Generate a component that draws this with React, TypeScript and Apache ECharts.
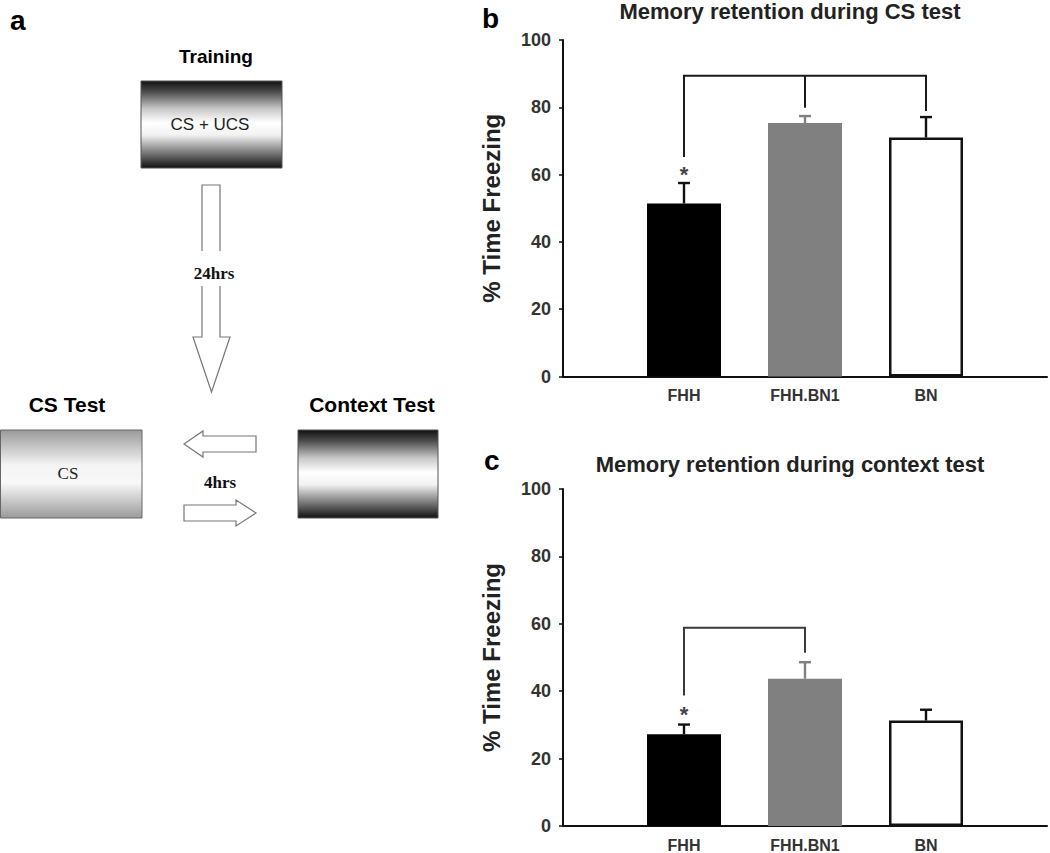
import React, { useEffect, useRef } from "react";
import * as echarts from "echarts";

// ---- data ----
const categories = ["", "FHH", "FHH.BN1", "BN", ""];
const yMin = 0;
const yMax = 100;
const yInterval = 20;

const csMeans = [null, 51.4, 75.3, 71.0, null];
const csErrTop = [null, 57.5, 77.4, 77.1, null];
const ctxMeans = [null, 27.2, 43.7, 31.3, null];
const ctxErrTop = [null, 30.1, 48.6, 34.5, null];

const barFills = ["#000000", "#000000", "#808080", "#ffffff", "#000000"];
const errColors = ["#111111", "#111111", "#808080", "#111111", "#111111"];

const csBracketTop = 89.4;
const csBracketLegs = [
  [1, 65.2],
  [2, 79.9],
  [3, 78.9],
];
const csStar = [1, 61.3];

const ctxBracketTop = 58.8;
const ctxBracketLegs = [
  [1, 38.7],
  [2, 51.4],
];
const ctxStar = [1, 34.3];

const titleB = "Memory retention during CS test";
const titleC = "Memory retention during context test";
const yName = "% Time Freezing";

const FONT = "'Liberation Sans', Arial, sans-serif";
const SERIF = "'Liberation Serif', 'Times New Roman', serif";

function barData(means: (number | null)[]) {
  return means.map((v, i) =>
    v == null
      ? "-"
      : {
          value: v,
          itemStyle: {
            color: barFills[i],
            borderColor: i === 3 ? "#111111" : barFills[i],
            borderWidth: i === 3 ? 2.5 : 0,
          },
        }
  );
}

function errData(means: (number | null)[], tops: (number | null)[]) {
  const out: number[][] = [];
  means.forEach((m, i) => {
    if (m != null && tops[i] != null) out.push([i, m, tops[i] as number]);
  });
  return out;
}

function errRender(params: any, api: any) {
  const x = api.value(0);
  const m = api.value(1);
  const t = api.value(2);
  const p0 = api.coord([x, m]);
  const p1 = api.coord([x, t]);
  const c = errColors[x];
  return {
    type: "group",
    children: [
      { type: "line", shape: { x1: p0[0], y1: p0[1], x2: p1[0], y2: p1[1] }, style: { stroke: c, lineWidth: 2.4 } },
      { type: "line", shape: { x1: p1[0] - 6, y1: p1[1], x2: p1[0] + 6, y2: p1[1] }, style: { stroke: c, lineWidth: 2.4 } },
    ],
  };
}

function bracketRender(legs: number[][], top: number, star: number[], color: string) {
  return (params: any, api: any) => {
    const i = params.dataIndex;
    const cat = api.value(0);
    const bottom = api.value(1);
    const a = api.coord([cat, top]);
    const b = api.coord([cat, bottom]);
    const children: any[] = [
      { type: "line", shape: { x1: a[0], y1: a[1], x2: b[0], y2: b[1] }, style: { stroke: color, lineWidth: 2 } },
    ];
    if (i === 0) {
      const l = api.coord([legs[0][0], top]);
      const r = api.coord([legs[legs.length - 1][0], top]);
      children.push({ type: "line", shape: { x1: l[0] - 1, y1: l[1], x2: r[0] + 1, y2: r[1] }, style: { stroke: color, lineWidth: 2 } });
      const s = api.coord(star);
      children.push({
        type: "text",
        x: s[0],
        y: s[1] + 4,
        style: { text: "*", font: `bold 22px ${FONT}`, fill: "#444", align: "center", verticalAlign: "middle" },
      });
    }
    return { type: "group", children };
  };
}

function yAxisCfg(gridIndex: number) {
  return {
    type: "value",
    gridIndex,
    min: yMin,
    max: yMax,
    interval: yInterval,
    name: yName,
    nameLocation: "middle",
    nameRotate: 90,
    nameGap: 60,
    nameTextStyle: { fontFamily: FONT, fontWeight: "bold", fontSize: 24, color: "#222" },
    axisLine: { show: true, lineStyle: { color: "#111", width: 2 } },
    axisTick: { show: true, length: 4, lineStyle: { color: "#111", width: 1.5 } },
    axisLabel: { fontFamily: FONT, fontWeight: "bold", fontSize: 18, color: "#333", margin: 12 },
    splitLine: { show: false },
  };
}

function xAxisCfg(gridIndex: number) {
  return {
    type: "category",
    gridIndex,
    data: categories,
    boundaryGap: false,
    axisLine: { show: true, lineStyle: { color: "#111", width: 2 } },
    axisTick: { show: false },
    axisLabel: { interval: 0, fontFamily: FONT, fontWeight: "bold", fontSize: 16, color: "#333", margin: 11 },
    splitLine: { show: false },
  };
}

const darkGrad = () =>
  new echarts.graphic.LinearGradient(0, 0, 0, 1, [
    { offset: 0, color: "#111111" },
    { offset: 0.12, color: "#4a4a4a" },
    { offset: 0.32, color: "#c8c8c8" },
    { offset: 0.48, color: "#ffffff" },
    { offset: 0.62, color: "#f2f2f2" },
    { offset: 0.85, color: "#6a6a6a" },
    { offset: 1, color: "#111111" },
  ]);

const lightGrad = () =>
  new echarts.graphic.LinearGradient(0, 0, 0, 1, [
    { offset: 0, color: "#9a9a9a" },
    { offset: 0.4, color: "#f4f4f4" },
    { offset: 0.6, color: "#f8f8f8" },
    { offset: 1, color: "#9a9a9a" },
  ]);

export default function App() {
  const ref = useRef<HTMLDivElement>(null);
  useEffect(() => {
    if (!ref.current) return;
    const chart = echarts.init(ref.current, null, { renderer: "svg" });
    const option: any = {
      animation: false,
      backgroundColor: "#ffffff",
      grid: [
        { left: 563, top: 40, width: 485, height: 336.5 },
        { left: 563, top: 489, width: 485, height: 337 },
      ],
      xAxis: [xAxisCfg(0), xAxisCfg(1)],
      yAxis: [yAxisCfg(0), yAxisCfg(1)],
      series: [
        { type: "bar", xAxisIndex: 0, yAxisIndex: 0, barWidth: 74, data: barData(csMeans), z: 2 },
        { type: "custom", xAxisIndex: 0, yAxisIndex: 0, data: errData(csMeans, csErrTop), renderItem: errRender, z: 3 },
        {
          type: "custom",
          xAxisIndex: 0,
          yAxisIndex: 0,
          data: csBracketLegs,
          renderItem: bracketRender(csBracketLegs, csBracketTop, csStar, "#1a1a1a"),
          z: 3,
        },
        { type: "bar", xAxisIndex: 1, yAxisIndex: 1, barWidth: 74, data: barData(ctxMeans), z: 2 },
        { type: "custom", xAxisIndex: 1, yAxisIndex: 1, data: errData(ctxMeans, ctxErrTop), renderItem: errRender, z: 3 },
        {
          type: "custom",
          xAxisIndex: 1,
          yAxisIndex: 1,
          data: ctxBracketLegs,
          renderItem: bracketRender(ctxBracketLegs, ctxBracketTop, ctxStar, "#3a3a3a"),
          z: 3,
        },
      ],
      graphic: [
        // panel letters
        { type: "text", left: 10, top: 6, style: { text: "a", font: `bold 28px ${FONT}`, fill: "#000" } },
        { type: "text", left: 482, top: 4, style: { text: "b", font: `bold 28px ${FONT}`, fill: "#000" } },
        { type: "text", left: 484, top: 446, style: { text: "c", font: `bold 28px ${FONT}`, fill: "#000" } },
        // titles
        { type: "text", x: 790, y: 11, style: { text: titleB, font: `bold 22px ${FONT}`, fill: "#222", align: "center", verticalAlign: "middle" } },
        { type: "text", x: 790, y: 464, style: { text: titleC, font: `bold 22px ${FONT}`, fill: "#222", align: "center", verticalAlign: "middle" } },
        // diagram
        { type: "text", x: 216, y: 56, style: { text: "Training", font: `bold 19px ${FONT}`, fill: "#000", align: "center", verticalAlign: "middle" } },
        { type: "rect", shape: { x: 141, y: 81, width: 141, height: 87 }, style: { fill: darkGrad(), stroke: "#555", lineWidth: 1 } },
        { type: "text", x: 210, y: 124, style: { text: "CS + UCS", font: `17px ${FONT}`, fill: "#222", align: "center", verticalAlign: "middle" } },
        {
          type: "polygon",
          shape: { points: [[202, 185], [220, 185], [220, 337], [230, 337], [211.5, 392], [193, 337], [202, 337]] },
          style: { fill: "#fff", stroke: "#777", lineWidth: 1.2 },
        },
        { type: "rect", shape: { x: 196, y: 251, width: 32, height: 35 }, style: { fill: "#fff" } },
        { type: "text", x: 214, y: 273, style: { text: "24hrs", font: `bold 17px ${SERIF}`, fill: "#111", align: "center", verticalAlign: "middle" } },
        { type: "text", x: 67, y: 404, style: { text: "CS Test", font: `bold 21px ${FONT}`, fill: "#000", align: "center", verticalAlign: "middle" } },
        { type: "text", x: 372, y: 404, style: { text: "Context Test", font: `bold 21px ${FONT}`, fill: "#000", align: "center", verticalAlign: "middle" } },
        { type: "rect", shape: { x: 0.5, y: 430, width: 141.5, height: 88 }, style: { fill: lightGrad(), stroke: "#666", lineWidth: 1 } },
        { type: "text", x: 68, y: 473, style: { text: "CS", font: `17px ${SERIF}`, fill: "#222", align: "center", verticalAlign: "middle" } },
        { type: "rect", shape: { x: 298, y: 430, width: 140, height: 88 }, style: { fill: darkGrad(), stroke: "#555", lineWidth: 1 } },
        {
          type: "polygon",
          shape: { points: [[184, 444], [203, 431], [203, 436], [256, 436], [256, 452], [203, 452], [203, 457]] },
          style: { fill: "#fff", stroke: "#777", lineWidth: 1.2 },
        },
        { type: "text", x: 220, y: 482, style: { text: "4hrs", font: `bold 17px ${SERIF}`, fill: "#111", align: "center", verticalAlign: "middle" } },
        {
          type: "polygon",
          shape: { points: [[184, 505], [236, 505], [236, 500], [256, 513], [236, 526], [236, 521], [184, 521]] },
          style: { fill: "#fff", stroke: "#777", lineWidth: 1.2 },
        },
      ],
    };
    chart.setOption(option);
    return () => chart.dispose();
  }, []);
  return <div ref={ref} style={{ position: "absolute", left: 0, top: 0, width: 1050, height: 853 }} />;
}
